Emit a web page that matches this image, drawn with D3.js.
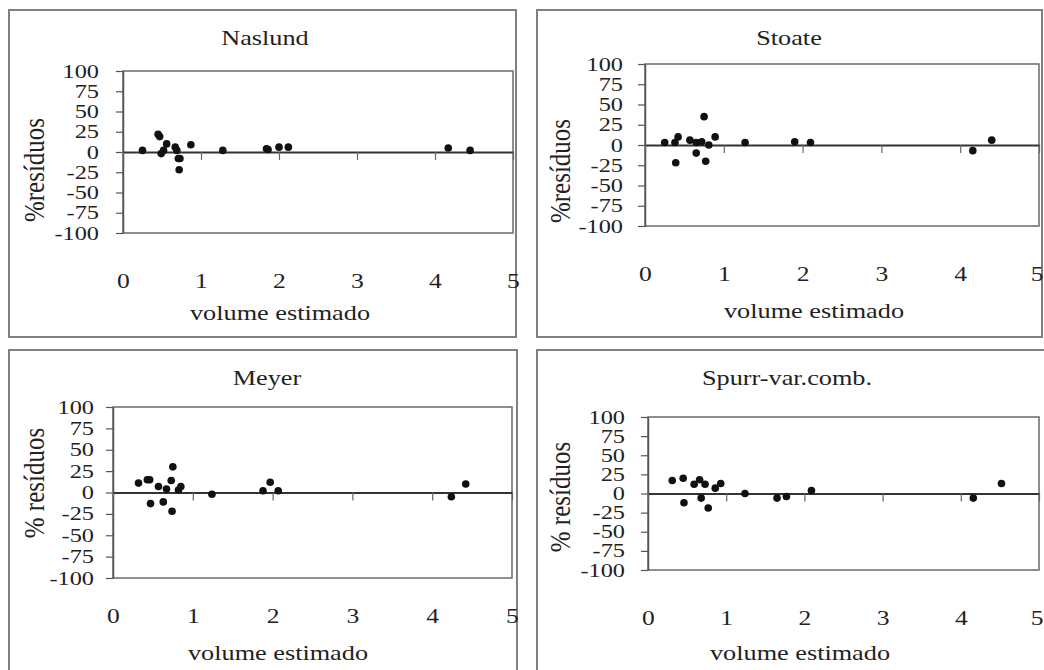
<!DOCTYPE html>
<html>
<head>
<meta charset="utf-8">
<script src="https://cdn.jsdelivr.net/npm/d3@7"></script>
<style>
  body { margin: 0; background: #fff; }
  svg text { font-family: "Liberation Serif", "Times New Roman", Times, serif; fill: #222; }
</style>
</head>
<body>
<div id="chart"></div>
<script>
// residual data
var titles = ["Naslund", "Stoate", "Meyer", "Spurr-var.comb."];
var yLabels = ["%resíduos", "%resíduos", "% resíduos", "% resíduos"];

var naslundX = [0.25, 0.45, 0.47, 0.49, 0.52, 0.56, 0.67, 0.69, 0.71, 0.73, 0.72, 0.87, 1.28, 1.84, 1.86, 2.00, 2.12, 4.17, 4.45];
var naslundY = [2, 22, 19, -2, 2, 10, 6, 2, -8, -8, -22, 9, 2, 4, 3, 6, 6, 5, 2];

var stoateX = [0.25, 0.38, 0.42, 0.39, 0.57, 0.65, 0.72, 0.65, 0.75, 0.77, 0.81, 0.89, 1.27, 1.90, 2.10, 4.16, 4.40];
var stoateY = [3, 3, 10, -22, 6, 3, 4, -10, 35, -20, 0, 10, 3, 4, 3, -7, 6];

var meyerX = [0.32, 0.43, 0.46, 0.57, 0.47, 0.63, 0.67, 0.73, 0.75, 0.74, 0.82, 0.85, 1.24, 1.88, 1.97, 2.07, 4.24, 4.42];
var meyerY = [11, 15, 15, 7, -13, -11, 4, 14, 30, -22, 3, 7, -2, 2, 12, 2, -5, 10];

var spurrX = [0.31, 0.45, 0.46, 0.59, 0.66, 0.68, 0.73, 0.77, 0.86, 0.93, 1.24, 1.65, 1.77, 2.09, 4.16, 4.52];
var spurrY = [17, 20, -12, 12, 18, -6, 12, -19, 7, 13, 0, -6, -4, 4, -6, 13];

var xTicks = [0, 1, 2, 3, 4, 5];
var yTicks = [-100, -75, -50, -25, 0, 25, 50, 75, 100];

var seriesX = [naslundX, stoateX, meyerX, spurrX];
var seriesY = [naslundY, stoateY, meyerY, spurrY];

// panel placement (box = outer frame, plot = left, top, right, bottom)
var layout = [
  { box: [9, 10, 507, 327],  plot: [123, 71, 513, 233], title: [265, 45],  xlab: [280, 320], ylab: [33, 170],  tickY: 288, yGap: 24 },
  { box: [537, 10, 505, 327], plot: [645, 64, 1039, 226], title: [789, 45], xlab: [814, 318], ylab: [559, 171], tickY: 281, yGap: 22 },
  { box: [9, 350, 508, 330], plot: [113, 407, 512, 578], title: [267, 385], xlab: [278, 660], ylab: [33, 483], tickY: 623, yGap: 19 },
  { box: [537, 350, 515, 330], plot: [648, 417, 1039, 570], title: [787, 385], xlab: [800, 660], ylab: [559, 497], tickY: 625, yGap: 23 }
];

var fmt = d => String(d);  // plain hyphen minus, no decimals

var svg = d3.select("#chart")
  .append("svg")
  .attr("width", 1044)
  .attr("height", 670);

titles.forEach(function(name, i) {
  var L = layout[i];
  var p = L.plot;

  var x = d3.scaleLinear().domain([0, 5]).range([p[0], p[2]]);
  var y = d3.scaleLinear().domain([-100, 100]).range([p[3], p[1]]);

  // outer panel frame
  svg.append("rect")
    .attr("x", L.box[0]).attr("y", L.box[1])
    .attr("width", L.box[2]).attr("height", L.box[3])
    .attr("fill", "none")
    .attr("stroke", "#808080")
    .attr("stroke-width", 2);

  // plot area frame
  svg.append("rect")
    .attr("x", p[0]).attr("y", p[1])
    .attr("width", p[2] - p[0]).attr("height", p[3] - p[1])
    .attr("fill", "none")
    .attr("stroke", "#6a6a6a")
    .attr("stroke-width", 1.5);

  // y axis
  var yAxis = svg.append("g")
    .attr("transform", `translate(${p[0]},0)`)
    .call(d3.axisLeft(y).tickValues(yTicks).tickFormat(fmt).tickSize(7).tickSizeOuter(0));
  yAxis.attr("font-family", null);
  yAxis.select(".domain").attr("stroke", "#555").attr("stroke-width", 1.5);
  yAxis.selectAll("line").attr("stroke", "#555").attr("stroke-width", 1.2);
  yAxis.selectAll("text")
    .attr("x", null)
    .attr("transform", `translate(${-L.yGap},0) scale(1.28,1)`)
    .attr("font-size", 19)
    .attr("fill", "#222");

  // zero line with tick marks
  var xAxis = svg.append("g")
    .attr("transform", `translate(0,${y(0)})`)
    .call(d3.axisBottom(x).tickValues(xTicks).tickSize(8).tickSizeOuter(0).tickFormat(""));
  xAxis.select(".domain").attr("stroke", "#333").attr("stroke-width", 2);
  xAxis.selectAll("line").attr("stroke", "#666").attr("stroke-width", 1.2);

  // tick labels at bottom
  var xLab = svg.append("g")
    .attr("transform", `translate(0,${L.tickY})`)
    .call(d3.axisBottom(x).tickValues(xTicks).tickFormat(fmt).tickSize(0).tickPadding(0));
  xLab.attr("font-family", null);
  xLab.select(".domain").remove();
  xLab.selectAll("text")
    .attr("y", null).attr("dy", null)
    .attr("transform", "scale(1.28,1)")
    .attr("font-size", 20)
    .attr("fill", "#222");
  // keep the last label inside the page on the right-hand panels
  if (p[2] > 1030) {
    xLab.selectAll(".tick").filter(d => d === 5).select("text")
      .attr("text-anchor", "end")
      .attr("transform", `translate(${1043 - p[2]},0) scale(1.28,1)`);
  }

  // points
  svg.append("g")
    .selectAll("circle")
    .data(seriesX[i].map(function(v, j) { return { x: v, y: seriesY[i][j] }; }))
    .enter()
    .append("circle")
    .attr("cx", d => x(d.x))
    .attr("cy", d => y(d.y))
    .attr("r", 3.8)
    .attr("fill", "#111");

  // titles and axis labels
  svg.append("text")
    .attr("transform", `translate(${L.title[0]},${L.title[1]}) scale(1.25,1)`)
    .attr("text-anchor", "middle")
    .attr("font-size", 21)
    .text(name);

  svg.append("text")
    .attr("transform", `translate(${L.xlab[0]},${L.xlab[1]}) scale(1.25,1)`)
    .attr("text-anchor", "middle")
    .attr("font-size", 21)
    .text("volume estimado");

  svg.append("text")
    .attr("transform", `translate(${L.ylab[0]},${L.ylab[1]}) rotate(-90) scale(1,1.2)`)
    .attr("text-anchor", "middle")
    .attr("dy", "0.35em")
    .attr("font-size", 25)
    .text(yLabels[i]);
});
</script>
</body>
</html>
